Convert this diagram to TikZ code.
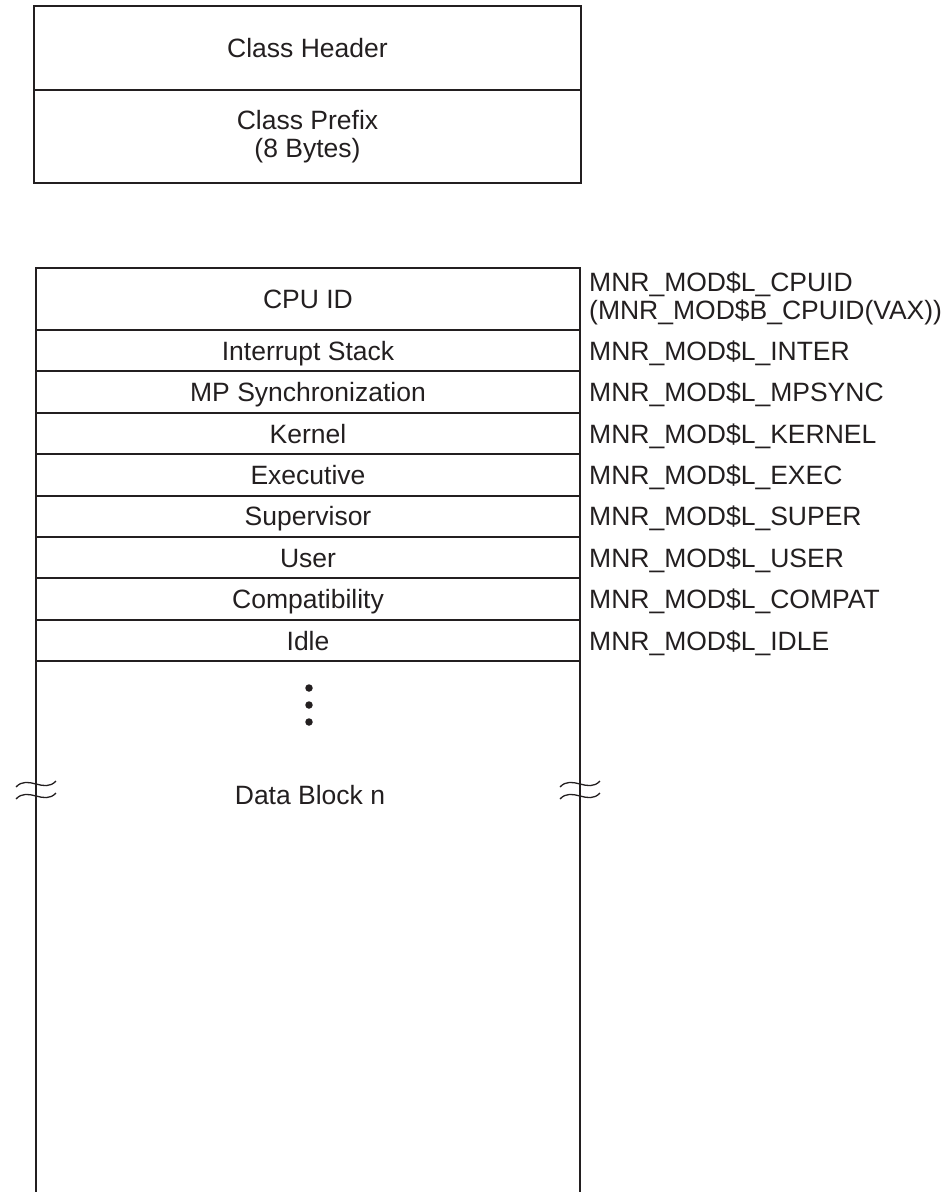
\documentclass[tikz,border=0pt]{standalone}
\usepackage{fontspec}
\setmainfont{Liberation Sans}
\definecolor{ink}{RGB}{35,31,32}
\begin{document}
\begin{tikzpicture}[x=1pt,y=-1pt,
  txt/.style={font=\fontsize{26.5}{30}\selectfont, text=ink},
  one/.style={text height=19pt, text depth=0pt},
  cellbase/.style={txt, draw=ink, line width=1.9pt, minimum width=544pt, minimum height=41.4pt,
    inner sep=0pt, outer sep=0pt, anchor=north west, align=center},
  cell/.style={cellbase, one},
  topcell/.style={cellbase, minimum width=547pt},
  labbase/.style={txt, anchor=west, inner sep=0pt, align=left},
  lab/.style={labbase, one},
  wall/.style={draw=ink, line width=1.9pt},
  brk/.style={draw=ink, line width=1.3pt},
  dotm/.style={circle, fill=ink, minimum size=7.5pt, inner sep=0pt}]
\useasboundingbox (0,0) rectangle (951,1192);

% top box
\node[topcell, one, minimum height=84pt] (hdr) at (34,6) {Class Header};
\node[topcell, minimum height=93pt] (pre) at (hdr.south west) {Class Prefix\\[-2pt](8 Bytes)};

% lower box rows
\node[cell, minimum height=62pt] (cpu) at (36,268) {CPU ID};
\node[cell] (inter) at (cpu.south west) {Interrupt Stack};
\node[cell] (mps) at (inter.south west) {MP Synchronization};
\node[cell] (ker) at (mps.south west) {Kernel};
\node[cell] (exe) at (ker.south west) {Executive};
\node[cell] (sup) at (exe.south west) {Supervisor};
\node[cell] (usr) at (sup.south west) {User};
\node[cell] (cmp) at (usr.south west) {Compatibility};
\node[cell] (idl) at (cmp.south west) {Idle};

% labels
\node[labbase] (lcpu) at ([xshift=9pt,yshift=1pt]cpu.east) {MNR\_MOD\$L\_CPUID\\[-2pt](MNR\_MOD\$B\_CPUID(VAX))};
\node[lab] (linter) at ([xshift=9pt]inter.east) {MNR\_MOD\$L\_INTER};
\node[lab] (lmps) at ([xshift=9pt]mps.east) {MNR\_MOD\$L\_MPSYNC};
\node[lab] (lker) at ([xshift=9pt]ker.east) {MNR\_MOD\$L\_KERNEL};
\node[lab] (lexe) at ([xshift=9pt]exe.east) {MNR\_MOD\$L\_EXEC};
\node[lab] (lsup) at ([xshift=9pt]sup.east) {MNR\_MOD\$L\_SUPER};
\node[lab] (lusr) at ([xshift=9pt]usr.east) {MNR\_MOD\$L\_USER};
\node[lab] (lcmp) at ([xshift=9pt]cmp.east) {MNR\_MOD\$L\_COMPAT};
\node[lab] (lidl) at ([xshift=9pt]idl.east) {MNR\_MOD\$L\_IDLE};

% data block walls
\coordinate (bot) at (0,1192);
\draw[wall] (idl.south west) -- (idl.south west |- bot);
\draw[wall] (idl.south east) -- (idl.south east |- bot);

% dots
\node[dotm] (d1) at (309,688) {};
\node[dotm] (d2) at (309,705) {};
\node[dotm] (d3) at (309,722) {};

\node[txt, one] (data) at (310,795) {Data Block n};

% break marks
\foreach \bx in {36,580}{
  \foreach \by in {784,796}{
    \draw[brk] (\bx-20,\by+3) .. controls (\bx-8,\by-10) and (\bx+8,\by+10) .. (\bx+20,\by-3);
  }
}
\end{tikzpicture}
\end{document}
